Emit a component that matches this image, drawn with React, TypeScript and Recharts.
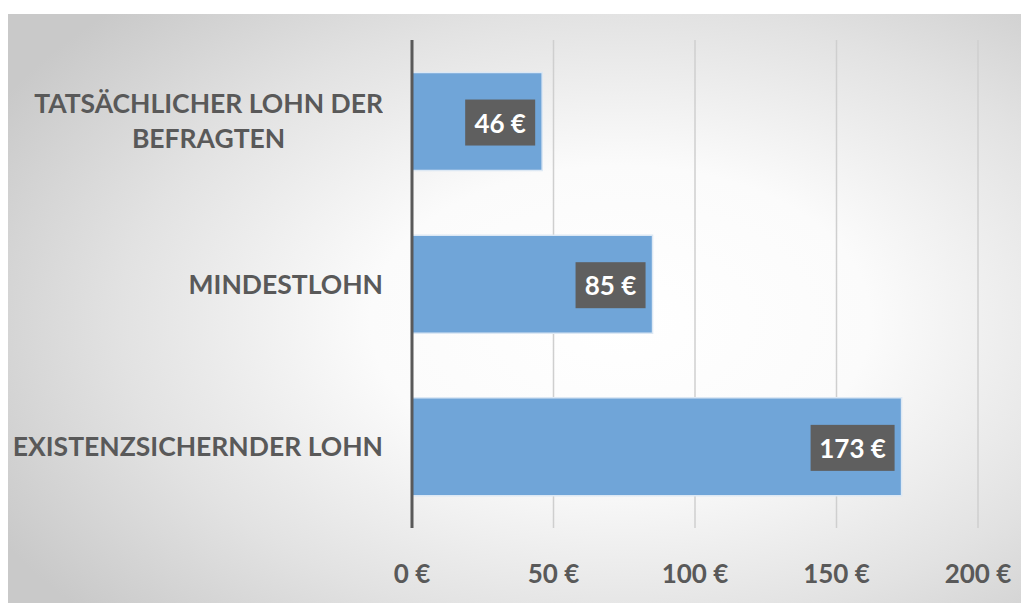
import { BarChart, Bar, XAxis, YAxis, CartesianGrid, LabelList } from 'recharts'

const categories = ['TATSÄCHLICHER LOHN DER BEFRAGTEN', 'MINDESTLOHN', 'EXISTENZSICHERNDER LOHN']
const wages = [46, 85, 173]
const xTicks = [0, 50, 100, 150, 200]

const data = categories.map((name, i) => ({ name, wage: wages[i] }))

const FONT = 'Lato, "Open Sans", sans-serif'
const GRAY = '#595959'

function wrap(text: string, max: number): string[] {
  const lines: string[] = []
  let cur = ''
  for (const w of text.split(' ')) {
    const next = cur ? cur + ' ' + w : w
    if (next.length > max && cur) {
      lines.push(cur)
      cur = w
    } else {
      cur = next
    }
  }
  if (cur) lines.push(cur)
  return lines
}

function CategoryTick(props: any) {
  const { x, y, payload } = props
  const lines = wrap(payload.value, 23)
  return (
    <foreignObject x={x - 420} y={y - 60} width={399} height={120}>
      <div
        style={{
          display: 'flex',
          height: '100%',
          alignItems: 'center',
          justifyContent: 'flex-end',
        }}
      >
        <div
          style={{
            textAlign: 'center',
            fontFamily: FONT,
            fontWeight: 700,
            fontSize: 26.5,
            lineHeight: '35px',
            color: GRAY,
            whiteSpace: 'nowrap',
          }}
        >
          {lines.map((l) => (
            <div key={l}>{l}</div>
          ))}
        </div>
      </div>
    </foreignObject>
  )
}

function ValueTick(props: any) {
  const { x, y, payload } = props
  return (
    <text
      x={x}
      y={y + 37}
      textAnchor="middle"
      dominantBaseline="central"
      fontFamily={FONT}
      fontWeight={700}
      fontSize={26}
      fill={GRAY}
    >
      {`${payload.value} €`}
    </text>
  )
}

function ValueLabel(props: any) {
  const { x, y, width, height, value } = props
  const txt = `${value} €`
  const w = txt.length * 14 + 14
  const bx = x + width - 7 - w
  const cy = y + height / 2 + 1
  return (
    <g>
      <rect x={bx} y={cy - 23} width={w} height={46} fill="#5f5f5f" />
      <text
        x={bx + w / 2}
        y={cy}
        textAnchor="middle"
        dominantBaseline="central"
        fontFamily={FONT}
        fontWeight={700}
        fontSize={26}
        fill="#ffffff"
      >
        {txt}
      </text>
    </g>
  )
}

export default function App() {
  return (
    <div
      style={{
        marginTop: 6,
        width: 1021,
        height: 589,
        background:
          'radial-gradient(ellipse 70% 75% at 60% 52%, #ffffff 0%, #fbfbfb 35%, #e2e2e2 70%, #c9c9c9 100%)',
      }}
    >
      <BarChart
        width={1021}
        height={589}
        data={data}
        layout="vertical"
        margin={{ top: 26, right: 51, left: 0, bottom: 0 }}
        barCategoryGap="20%"
      >
        <CartesianGrid horizontal={false} stroke="#cfcfcf" strokeWidth={1.5} />
        <XAxis
          type="number"
          domain={[0, 200]}
          ticks={xTicks}
          axisLine={false}
          tickLine={false}
          tick={<ValueTick />}
          height={75}
        />
        <YAxis
          type="category"
          dataKey="name"
          width={404}
          axisLine={{ stroke: GRAY, strokeWidth: 3 }}
          tickLine={false}
          tick={<CategoryTick />}
        />
        <Bar dataKey="wage" fill="#70a5d8" stroke="#dce8f4" strokeWidth={1.5} isAnimationActive={false}>
          <LabelList dataKey="wage" content={<ValueLabel />} />
        </Bar>
      </BarChart>
    </div>
  )
}
